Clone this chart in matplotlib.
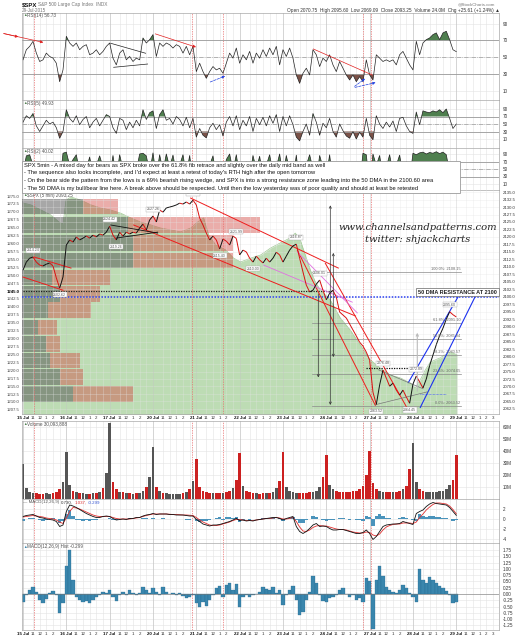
import numpy as np
import matplotlib
matplotlib.use('Agg')
import matplotlib.pyplot as plt
from matplotlib.patches import Rectangle
from matplotlib.collections import LineCollection

plt.rcParams['font.family'] = ['Liberation Sans', 'DejaVu Sans']

W, H = 529, 640
LEFT, RIGHT = 22, 499
PER_DAY = 13                      # 30 min samples per session
XMAX = (RIGHT - LEFT) / 3.34      # bars visible across the panel

day_names = ['15 Jul', '16 Jul', '17 Jul', '20 Jul', '21 Jul', '22 Jul',
             '23 Jul', '24 Jul', '27 Jul', '28 Jul', '29 Jul']
hour_names = ['11', '12', '1', '2', '3']
hour_slots = [3, 5, 7, 9, 11]
marker_bars = [3.3, 50.6, 59.9, 102.1, 104.5]

# ---- series, one row per session (13 samples) + last print ----
price = [2108.9, 2111.6, 2112.9, 2113.3, 2111.6, 2110.6, 2110.3, 2110.9, 2111.3, 2110.3, 2106.3, 2102.9, 2106.6,
         2117.3, 2119.0, 2118.3, 2120.0, 2119.0, 2119.6, 2120.3, 2119.6, 2120.6, 2120.0, 2121.0, 2120.6, 2121.6,
         2123.6, 2120.6, 2119.0, 2121.6, 2120.3, 2121.6, 2121.0, 2121.6, 2121.3, 2123.0, 2124.3, 2122.3, 2125.7,
         2127.0, 2125.0, 2129.0, 2128.3, 2129.7, 2130.0, 2130.3, 2130.7, 2131.3, 2131.0, 2131.7, 2131.0, 2132.3,
         2130.7, 2126.3, 2124.0, 2121.3, 2119.0, 2120.3, 2119.0, 2116.0, 2119.3, 2118.6, 2117.3, 2120.3, 2119.5,
         2114.0, 2115.6, 2115.0, 2112.9, 2111.6, 2113.6, 2112.3, 2111.3, 2112.9, 2111.6, 2112.9, 2114.9, 2114.0,
         2111.6, 2113.6, 2115.6, 2117.0, 2117.6, 2112.9, 2108.3, 2103.9, 2101.6, 2102.2, 2104.2, 2105.6, 2102.2,
         2099.0, 2101.2, 2102.2, 2099.9, 2094.9, 2093.9, 2092.9, 2090.9, 2088.9, 2086.9, 2084.8, 2083.5, 2081.5,
         2078.8, 2068.1, 2064.0, 2070.5, 2075.5, 2072.8, 2070.1, 2071.1, 2068.8, 2067.1, 2068.8, 2066.5, 2064.4,
         2070.8, 2073.5, 2071.5, 2069.5, 2072.5, 2077.0, 2080.5, 2084.0, 2087.0, 2089.5, 2092.5, 2095.0, 2094.0,
         2093.25]

rsi14 = [47, 59, 63, 69, 55, 45, 47, 55, 51, 49, 43, 21, 35,
         75, 67, 63, 67, 59, 63, 65, 53, 55, 59, 53, 57, 63,
         67, 49, 41, 55, 59, 47, 51, 45, 49, 47, 73, 67, 71,
         77, 51, 67, 63, 67, 65, 61, 65, 63, 55, 63, 53, 63,
         33, 43, 33, 25, 33, 39, 35, 37, 31, 43, 55, 49, 61,
         43, 53, 47, 57, 43, 55, 49, 59, 51, 61, 53, 63, 41,
         59, 51, 61, 49, 29, 19, 31, 37, 29, 59, 53, 39, 49,
         45, 53, 41, 33, 45, 37, 29, 23, 29, 21, 27, 21, 47,
         29, 23, 53, 49, 45, 47, 45, 47, 41, 53, 57, 49, 41,
         35, 69, 53, 67, 71, 73, 77, 79, 71, 79, 81, 71, 59,
         56.73]

rsi5 = [55, 72, 65, 78, 45, 30, 45, 60, 50, 55, 40, 12, 30,
        88, 65, 55, 72, 48, 62, 70, 40, 55, 65, 45, 60, 75,
        70, 40, 25, 65, 60, 35, 55, 40, 60, 45, 88, 62, 80,
        85, 38, 75, 88, 60, 65, 50, 70, 62, 45, 68, 40, 65,
        15, 38, 20, 13, 40, 52, 35, 48, 18, 55, 70, 45, 72,
        35, 60, 45, 70, 30, 65, 48, 68, 45, 72, 52, 75, 30,
        70, 45, 72, 48, 15, 5, 30, 50, 20, 78, 55, 20, 52,
        40, 65, 30, 15, 50, 32, 18, 12, 30, 10, 28, 15, 65,
        20, 8, 72, 50, 38, 55, 42, 58, 30, 65, 68, 45, 30,
        25, 82, 48, 85, 82, 80, 85, 82, 88, 80, 90, 65, 38,
        49.93]

rsi2 = [40, 85, 88, 60, 30, 55, 20, 65, 45, 70, 30, 10, 92,
        95, 60, 75, 88, 40, 65, 50, 82, 35, 60, 85, 55, 45,
        30, 86, 25, 88, 50, 70, 35, 60, 45, 90, 92, 85, 40,
        93, 30, 88, 45, 90, 55, 87, 40, 60, 88, 35, 86, 20,
        10, 70, 15, 40, 60, 85, 30, 55, 20, 75, 90, 45, 88,
        30, 55, 70, 25, 86, 50, 84, 30, 60, 88, 40, 55, 90,
        30, 86, 45, 20, 87, 10, 35, 60, 88, 50, 20, 86, 55,
        30, 88, 15, 40, 25, 60, 20, 45, 15, 35, 10, 92, 88,
        5, 90, 60, 86, 30, 55, 88, 40, 60, 87, 35, 70, 20,
        92, 88, 93, 95, 90, 94, 92, 96, 91, 95, 88, 40, 55,
        40.02]

volume = [29, 9, 6, 5, 5, 4, 4, 5, 4, 5, 6, 8, 14,
          39, 12, 7, 6, 5, 5, 4, 4, 5, 5, 6, 9, 22,
          63, 14, 8, 6, 6, 5, 5, 4, 5, 5, 7, 10, 18,
          43, 10, 7, 5, 5, 4, 4, 4, 4, 5, 6, 8, 15,
          33, 10, 7, 6, 5, 5, 5, 5, 5, 6, 7, 9, 16,
          38, 11, 7, 6, 5, 5, 4, 5, 5, 5, 6, 9, 15,
          39, 10, 7, 6, 5, 5, 5, 5, 6, 6, 7, 10, 18,
          37, 12, 8, 7, 6, 6, 6, 6, 7, 7, 8, 11, 20,
          40, 13, 8, 7, 6, 6, 6, 6, 6, 7, 8, 11, 25,
          47, 14, 8, 7, 6, 6, 6, 6, 7, 7, 8, 12, 16,
          37]

macd = [0.5, 0.7, 0.8, 0.9, 0.6, 0.3, 0.2, 0.0, -0.1, -0.2, -0.5, -1.5, -1.2,
        1.5, 2.8, 2.6, 2.3, 1.9, 1.5, 1.1, 0.8, 0.5, 0.3, 0.3, 0.5, 0.6,
        0.5, 0.1, -0.2, -0.1, 0.0, -0.1, 0.1, 0.1, 0.3, 0.3, 0.6, 0.8, 0.9,
        1.1, 0.9, 1.0, 1.0, 1.0, 0.9, 0.9, 0.8, 0.8, 0.8, 0.7, 0.6, 0.6,
        -0.1, -0.5, -1.0, -1.2, -1.4, -1.2, -1.2, -1.1, -0.9, -0.7, -0.5, -0.2, 0.1,
        -0.3, -0.2, -0.4, -0.3, -0.4, -0.2, -0.1, 0.0, 0.1, 0.2, 0.3, 0.3, 0.1,
        -0.2, 0.1, 0.3, 0.5, -1.5, -2.5, -2.9, -2.5, -1.9, -1.2, -0.9, -1.5, -1.4,
        -1.5, -1.9, -2.2, -2.2, -2.1, -2.1, -2.3, -2.5, -2.7, -2.9, -2.9, -2.7, -2.2,
        -2.9, -4.1, -3.5, -2.5, -1.5, -1.2, -1.1, -1.0, -1.0, -0.9, -0.5, -0.7, -0.9,
        -1.1, 1.1, 1.5, 1.8, 2.5, 3.0, 3.3, 3.1, 3.0, 2.9, 2.8, 2.3, 1.5,
        0.73]

signal = [0.4, 0.5, 0.6, 0.7, 0.6, 0.5, 0.4, 0.2, 0.1, 0.0, -0.2, -0.6, -0.9,
          0.2, 1.5, 2.3, 2.2, 2.0, 1.7, 1.4, 1.1, 0.8, 0.6, 0.5, 0.5, 0.5,
          0.5, 0.3, 0.1, 0.0, 0.0, 0.0, 0.0, 0.1, 0.2, 0.3, 0.5, 0.7, 0.85,
          1.0, 1.0, 1.0, 1.0, 1.0, 0.95, 0.9, 0.9, 0.85, 0.8, 0.8, 0.75, 0.7,
          0.3, -0.2, -0.6, -0.9, -1.2, -1.3, -1.3, -1.2, -1.0, -0.8, -0.6, -0.3, -0.1,
          -0.1, -0.2, -0.3, -0.3, -0.3, -0.2, -0.1, 0.0, 0.1, 0.1, 0.2, 0.3, 0.2,
          0.0, 0.0, 0.1, 0.3, -0.5, -1.6, -2.4, -2.5, -2.2, -1.7, -1.4, -1.3, -1.4,
          -1.4, -1.6, -1.8, -2.0, -2.1, -2.1, -2.2, -2.4, -2.6, -2.7, -2.8, -2.8, -2.6,
          -2.7, -3.2, -3.4, -3.0, -2.2, -1.6, -1.3, -1.1, -1.0, -1.0, -0.8, -0.8, -0.8,
          -0.9, -0.6, 0.3, 1.0, 1.8, 2.4, 2.9, 3.2, 3.2, 3.1, 3.0, 2.6, 1.9,
          1.04]

hist = [-0.3, -0.05, 0.15, 0.27, 0.1, -0.25, -0.35, -0.2, 0.03, 0.13, -0.05, -0.77, -0.37,
        1.1, 1.75, 0.55, -0.1, -0.25, -0.3, -0.27, -0.37, -0.25, -0.13, -0.05, 0.1, 0.03,
        0.15, -0.1, -0.27, -0.05, 0.1, -0.05, 0.15, 0.05, -0.05, 0.03, 0.27, 0.15, 0.03,
        0.23, 0.1, -0.05, 0.3, 0.1, 0.0, 0.03, -0.05, 0.03, -0.08, -0.17, -0.1, -0.05,
        -0.37, -0.5, -0.3, -0.48, -0.25, -0.05, 0.23, 0.32, -0.1, 0.35, 0.43, 0.15, 0.4,
        -0.5, -0.1, -0.05, -0.1, -0.05, 0.0, 0.1, 0.27, 0.19, 0.15, 0.27, 0.03, 0.15,
        -0.45, -0.05, 0.15, 0.32, -0.25, -0.85, -0.7, -0.25, 0.1, 0.7, 0.43, -0.05, -0.27,
        -0.3, -0.17, -0.1, -0.05, 0.15, 0.23, 0.0, -0.1, -0.05, -0.25, -0.17, -0.3, 0.62,
        0.5, -1.4, 0.55, 1.1, 0.7, 0.3, 0.15, 0.1, 0.03, 0.15, 0.35, 0.23, 0.03,
        -0.1, -0.3, 1.0, 0.55, 0.43, 0.67, 0.55, 0.43, 0.32, 0.23, 0.13, -0.05, -0.37,
        -0.299]

# shaded comparison series (left scale)
green_bars = [0, 2.4, 5.4, 8.4, 10.8, 12, 12.9, 14.4, 17.4, 20.4, 23.4, 26.3, 29.3, 32.3, 35.3,
              38.3, 41.3, 44.3, 47.3, 50.3, 52.4, 54.2, 55.7, 57.8, 60.8, 63.2, 65.3, 68.3, 71.3,
              74.3, 77.2, 80.2, 81.7, 83.2, 84.7, 86.2, 87.7, 89.2, 92.2, 95.2, 98.2, 101.2,
              104.2, 107.2, 110.2, 113.2, 116.2, 117.7, 119.2, 120.7, 122.2, 125.1, 128.1, 130.2]
green_vals = [1272.8, 1272.2, 1270.6, 1269.0, 1266.8, 1266.2, 1273.7, 1274.7, 1273.7, 1272.2,
              1271.2, 1270.6, 1269.6, 1268.1, 1266.8, 1265.9, 1264.9, 1264.3, 1263.7, 1264.9,
              1266.8, 1268.1, 1262.7, 1259.6, 1258.0, 1255.4, 1254.2, 1255.4, 1256.4, 1258.6,
              1260.2, 1261.8, 1263.3, 1261.1, 1256.4, 1251.7, 1247.9, 1245.4, 1242.2, 1236.5,
              1232.7, 1228.0, 1223.3, 1220.7, 1218.5, 1217.6, 1216.0, 1214.4, 1217.0, 1220.1,
              1222.6, 1223.9, 1225.8, 1224.9]

# volume by price (left scale levels)
vbp_levels = [1212.4, 1217.75, 1223.1, 1228.3, 1233.5, 1238.9, 1244.1, 1249.3, 1254.65,
              1260.15, 1265.85, 1271.7]
vbp_up = [51, 38, 28, 24, 16, 26, 38, 30, 111, 111, 106, 61]
vbp_down = [60, 23, 30, 14, 19, 43, 40, 58, 100, 100, 132, 35]

fib_levels = [2063.52, 2074.05, 2080.57, 2085.84, 2091.10, 2108.15]
fib_names = ['0.0%', '23.6%', '38.2%', '50.0%', '61.8%', '100.0%']

price_labels = [(3, 2113.3, '2114.24', 1), (11, 2102.9, '2102.62', -1), (26, 2123.6, '2124.42', 1),
                (28, 2119.0, '2119.26', -1), (39, 2127.0, '2127.26', 1), (51, 2132.3, '2132.82', 1),
                (59, 2116.0, '2115.40', -1), (64, 2119.5, '2121.99', 1), (69, 2111.6, '2110.00', -1),
                (82, 2117.6, '2116.87', 1), (89, 2105.6, '2106.01', 1), (106, 2064.0, '2063.52', -1),
                (108, 2075.5, '2076.48', 1), (116, 2064.4, '2064.45', -1), (118, 2073.5, '2072.89', 1),
                (128, 2095.0, '2095.60', 1)]

red_lines = [((3.3, 2113.3), (14.4, 2109.6)), ((0, 2106.6), (12, 2102.2)),
             ((33.2, 2124.0), (99.7, 2093.6)), ((50.3, 2133.0), (94.6, 2109.6)),
             ((82.3, 2115.6), (105.7, 2063.7)), ((90.7, 2111.2), (115.3, 2062.7))]
pink_lines = [((82.3, 2115.0), (100.3, 2094.6)), ((72.2, 2110.6), (98.8, 2098.2))]
blue_lines = [((115.6, 2071.3), (130.5, 2099.9)), ((119.2, 2063.0), (135.6, 2099.9))]
black_lines = [((26.3, 2124.0), (40.4, 2121.3)), ((27.8, 2119.6), (40.4, 2121.6))]
gray_lines = [((105.7, 2063.9), (121.3, 2068.2)), ((106.6, 2075.6), (120.1, 2069.2))]

text_lines = [
    "SPX 5min - A mixed day for bears as SPX broke over the 61.8% fib retrace and slightly over the daily mid band as well",
    "- The sequence also looks incomplete, and I'd expect at least a retest of today's RTH high after the open tomorrow",
    "- On the bear side the pattern from the lows is a 69% bearish rising wedge, and SPX is into a strong resistance zone leading into the 50 DMA in the 2100.60 area",
    "- The 50 DMA is my bull/bear line here. A break above should be respected. Until then the low yesterday was of poor quality and should at least be retested",
]

x = np.arange(len(price))
price = np.array(price)


def box(top, bottom):
    return [LEFT / W, 1 - bottom / H, (RIGHT - LEFT) / W, (bottom - top) / H]


def fy(py):
    return 1 - py / H


def grid(ax, yticks, alpha=1.0):
    for d in range(len(day_names)):
        b = d * PER_DAY
        ax.axvline(b, color='#c4c4c4', lw=0.5, zorder=0.5, alpha=alpha)
        for h in hour_slots:
            ax.axvline(b + h, color='#e4e4e4', lw=0.4, zorder=0.4, alpha=alpha)
    for t in yticks:
        ax.axhline(t, color='#e4e4e4', lw=0.4, zorder=0.4, alpha=alpha)
    for m in marker_bars:
        ax.axvline(m, color='#e87070', lw=0.5, ls=(0, (2, 1.5)), zorder=0.6)


def style(ax, ylim, yticks, ylabels, fs=3.3):
    ax.set_xlim(-0.3, XMAX)
    ax.set_ylim(*ylim)
    ax.yaxis.tick_right()
    ax.set_yticks(yticks)
    ax.set_yticklabels(ylabels)
    ax.tick_params(axis='y', length=0, pad=3, labelsize=fs, labelcolor='#333')
    ax.set_xticks([])
    for s in ax.spines.values():
        s.set_color('#a8a8a8')
        s.set_linewidth(0.5)
    grid(ax, yticks)


def xlabels(ax):
    pos, lab = [], []
    for d, name in enumerate(day_names):
        b = d * PER_DAY
        pos.append(b)
        lab.append(name)
        slots = hour_slots if d == len(day_names) - 1 else hour_slots[:4]
        for h, hn in zip(slots, hour_names):
            pos.append(b + h)
            lab.append(hn)
    ax.set_xticks(pos)
    ax.set_xticklabels(lab)
    ax.tick_params(axis='x', length=0, labelbottom=True, labelsize=3.2, pad=1.5, labelcolor='#333')
    for t in ax.get_xticklabels():
        if 'Jul' in t.get_text():
            t.set_fontweight('bold')
            t.set_color('#111')


def chain(ax, parts, px, py, fs=3.2):
    # write coloured pieces one after another on one line
    prev = fig.text(px / W, fy(py), parts[0][0], fontsize=fs, color=parts[0][1], va='center')
    for txt, col in parts[1:]:
        prev = ax.annotate(txt, xy=(1, 0.5), xycoords=prev, xytext=(1.2, 0),
                           textcoords='offset points', fontsize=fs, color=col,
                           va='center', annotation_clip=False)


def panel_title(py, text, px=27, icon='#4f7f4f'):
    fig.text(23 / W, fy(py), '\u25b2', fontsize=2.6, color=icon, va='center')
    fig.text(px / W, fy(py), text, fontsize=3.3, color='#555', va='center')


def rsi_panel(ax, vals, ylim, title_y, title):
    vals = np.array(vals, dtype=float)
    rt = [10, 30, 50, 70, 90]
    style(ax, ylim, rt, [str(v) for v in rt])
    ax.axhline(70, color='#9a9a9a', lw=0.6)
    ax.axhline(30, color='#9a9a9a', lw=0.6)
    ax.axhline(50, color='#9a9a9a', lw=0.5, ls='-.')
    ax.fill_between(x, vals, 70, where=vals >= 70, interpolate=True, color='#4f7f4f', lw=0)
    ax.fill_between(x, vals, 30, where=vals <= 30, interpolate=True, color='#7b5248', lw=0)
    ax.plot(x, vals, color='#222', lw=0.5)
    panel_title(title_y, title)


fig = plt.figure(figsize=(W / 100, H / 100), dpi=100)

# ---- header ----
fig.text(22 / W, fy(4.5), '$SPX', fontsize=4.3, weight='bold', color='#111', va='center')
fig.text(38 / W, fy(4.5), 'S&P 500 Large Cap Index  INDX', fontsize=3.4, color='#777', va='center')
fig.text(22 / W, fy(10.5), '29-Jul-2015', fontsize=3.3, color='#777', va='center')
fig.text(495 / W, fy(4), '@StockCharts.com', fontsize=3.2, color='#777', va='center', ha='right')
fig.text(500 / W, fy(10.5), 'Open 2070.75  High 2095.60  Low 2069.09  Close 2093.25  Volume 24.0M  Chg +25.61 (+1.24%) \u25b2',
         fontsize=3.4, color='#333', va='center', ha='right')

# ---- RSI panels ----
ax1 = fig.add_axes(box(13, 100))
rsi_panel(ax1, rsi14, (-0.8, 102.7), 15.5, 'RSI(14) 56.73')
ax2 = fig.add_axes(box(100, 148))
rsi_panel(ax2, rsi5, (-14, 114), 103.5, 'RSI(5) 49.93')
ax3 = fig.add_axes(box(148, 190))
rsi_panel(ax3, rsi2, (-6, 106), 151.5, 'RSI(2) 40.02')

arrow_red = dict(arrowstyle='-|>', color='#e02020', lw=0.5, mutation_scale=4)
ax1.annotate('', xy=(6.9, 67), xytext=(-6.6, 79), arrowprops=arrow_red, annotation_clip=False)
ax1.annotate('', xy=(-0.6, 73.6), xytext=(-6.6, 79), arrowprops=arrow_red, annotation_clip=False)
ax1.annotate('', xy=(52.7, 61.1), xytext=(38.9, 78.9), arrowprops=arrow_red)
ax1.plot([87.1, 104.8], [59.9, 28.9], color='#e02020', lw=0.5)
ax1.plot([26.3, 36.8], [66.7, 54.8], color='#222', lw=0.5)
ax1.plot([27.2, 37.4], [38.1, 42.0], color='#222', lw=0.5)
arrow_blue = dict(arrowstyle='-|>', color='#2040e0', lw=0.5, mutation_scale=4, ls='--')
ax1.annotate('', xy=(61.4, 28.9), xytext=(55.4, 19.4), arrowprops=arrow_blue)
ax1.annotate('', xy=(103.3, 26.5), xytext=(98.8, 13.5), arrowprops=arrow_blue)
ax1.annotate('', xy=(106.6, 20.6), xytext=(98.8, 13.5), arrowprops=arrow_blue)

# ---- price panel ----
ax_l = fig.add_axes(box(190, 414))
ax_l.set_xlim(-0.3, XMAX)
ax_l.set_ylim(1206.2, 1276.9)
lt = np.arange(1207.5, 1275.1, 2.5)
ax_l.set_yticks(lt)
ax_l.set_yticklabels(['%.1f' % v for v in lt])
ax_l.tick_params(axis='y', length=0, pad=2, labelsize=3.1, labelcolor='#444')
for t in ax_l.get_yticklabels():
    if t.get_text() == '1245.0':
        t.set_fontweight('bold')
        t.set_color('#000')
for s in ax_l.spines.values():
    s.set_color('#a8a8a8')
    s.set_linewidth(0.5)
ax_l.fill_between(green_bars, green_vals, 1200, color='#bddcb4', lw=0)
ax_l.plot(green_bars, green_vals, color='#a3c999', lw=0.5)
xlabels(ax_l)

ax_v = ax_l.twiny()
ax_v.set_xlim(0, RIGHT - LEFT)
ax_v.barh(vbp_levels, vbp_up, height=5.0, color='#505050', alpha=0.5, lw=0)
ax_v.barh(vbp_levels, vbp_down, left=vbp_up, height=5.0, color='#d24a44', alpha=0.45, lw=0)
ax_v.xaxis.set_visible(False)
for s in ax_v.spines.values():
    s.set_visible(False)
ax_v.set_zorder(ax_l.get_zorder() + 1)

ax_p = ax_l.twinx()
ax_p.set_zorder(ax_l.get_zorder() + 2)
ax_p.set_ylim(2060.8, 2135.7)
pt = np.arange(2062.5, 2135.1, 2.5)
ax_p.set_yticks(pt)
ax_p.set_yticklabels(['%.1f' % v for v in pt])
ax_p.tick_params(axis='y', length=0, pad=3, labelsize=3.1, labelcolor='#333')
for s in ax_p.spines.values():
    s.set_visible(False)
grid(ax_p, pt, alpha=0.55)

ax_p.axhline(2100, color='#2a3ff0', lw=1.1, ls=(0, (1, 1)))
ax_p.plot([0, 93.1], [1245.0, 1245.0], color='#222', lw=0.9, ls=(0, (1, 1)), transform=ax_l.transData)
ax_p.plot([103, 118.6], [2076.2, 2076.2], color='#111', lw=0.9, ls=(0, (1, 1)))
ax_p.plot([119, 127], [2067.5, 2067.5], color='#3050f0', lw=0.5, ls=(0, (1, 1)))

for lvl, name in zip(fib_levels, fib_names):
    ax_p.plot([86.8, 131.4], [lvl, lvl], color='#8a8a8a', lw=0.5)
    ax_p.text(131.2, lvl + 0.4, '%s: %.2f' % (name, lvl), fontsize=2.8, color='#666',
              ha='right', va='bottom')

for (a, b) in red_lines:
    ax_p.plot([a[0], b[0]], [a[1], b[1]], color='#ee1c1c', lw=0.7)
for (a, b) in pink_lines:
    ax_p.plot([a[0], b[0]], [a[1], b[1]], color='#e070e0', lw=0.6)
for (a, b) in blue_lines:
    ax_p.plot([a[0], b[0]], [a[1], b[1]], color='#1a30f0', lw=0.8)
for (a, b) in black_lines:
    ax_p.plot([a[0], b[0]], [a[1], b[1]], color='#111', lw=0.6)
for (a, b) in gray_lines:
    ax_p.plot([a[0], b[0]], [a[1], b[1]], color='#777', lw=0.5)

arr_k = dict(arrowstyle='<->', color='#333', lw=0.5, mutation_scale=4)
ax_p.annotate('', xy=(92.2, 2131.5), xytext=(92.2, 2062.9), arrowprops=arr_k)
ax_p.annotate('', xy=(93.1, 2115.6), xytext=(93.1, 2078.9), arrowprops=arr_k)
ax_p.annotate('', xy=(88.6, 2072.1), xytext=(88.6, 2101.9),
              arrowprops=dict(arrowstyle='->', color='#333', lw=0.5, mutation_scale=4))
ax_p.annotate('', xy=(118.3, 2088.9), xytext=(118.3, 2067.5),
              arrowprops=dict(arrowstyle='->', color='#bbb', lw=0.8, mutation_scale=4))

pts = np.column_stack([x, price])
segs = np.stack([pts[:-1], pts[1:]], axis=1)
seg_cols = ['#111111' if b >= a else '#d81010' for a, b in zip(price[:-1], price[1:])]
ax_p.add_collection(LineCollection(segs, colors=seg_cols, linewidths=0.7))

for b, p, txt, d in price_labels:
    ax_p.text(b, p + d * 1.6, txt, fontsize=2.6, color='#555', ha='center',
              va='bottom' if d > 0 else 'top',
              bbox=dict(boxstyle='square,pad=0.15', fc='white', ec='#aaa', lw=0.3))

panel_title(195.5, '$SPX (5 min) 2093.25')

fig.text(418 / W, fy(228), 'www.channelsandpatterns.com', fontsize=7.2, family='DejaVu Serif',
         style='italic', color='#222', ha='center', va='center', zorder=12)
fig.text(418 / W, fy(240), 'twitter: shjackcharts', fontsize=7.2, family='DejaVu Serif',
         style='italic', color='#222', ha='center', va='center', zorder=12)
fig.text(457.5 / W, fy(292), '50 DMA RESISTANCE AT 2100', fontsize=4.0, weight='bold', color='#222',
         ha='center', va='center', zorder=12,
         bbox=dict(boxstyle='square,pad=0.35', fc='white', ec='#666', lw=0.5))

# ---- comment box ----
fig.add_artist(Rectangle((22 / W, fy(193)), (460 - 22) / W, 32 / H, transform=fig.transFigure,
                         fc='white', ec='#9a9a9a', lw=0.6, zorder=10))
for i, line in enumerate(text_lines):
    fig.text(24 / W, fy(165 + 7.7 * i), line, fontsize=4.15, color='#111', va='center', zorder=11)

# ---- volume ----
axv = fig.add_axes(box(421, 499))
vt = [10, 20, 30, 40, 50, 60]
style(axv, (0, 65), vt, ['%dM' % v for v in vt])
vcols = ['#555555'] + ['#555555' if b >= a else '#cc2020' for a, b in zip(price[:-1], price[1:])]
axv.bar(x, volume, width=0.8, color=vcols, lw=0)
panel_title(424, 'Volume 30,093,888')

# ---- MACD ----
axm = fig.add_axes(box(499, 543))
mt = [-4, -2, 0, 2]
style(axm, (-4.8, 4.0), mt, [str(v) for v in mt])
axm.bar(x, hist, width=1.0, color='#4a93bb', lw=0)
axm.plot(x, signal, color='#e03030', lw=0.6)
axm.plot(x, macd, color='#111', lw=0.6)
chain(axm, [('\u2014 MACD(12,26,9)', '#555'), ('0.730,', '#333'), ('1.037,', '#e03030'),
            ('-0.299', '#3050d0')], 23, 502.5)

# ---- MACD histogram ----
axh = fig.add_axes(box(543, 630))
ht = [-1.25, -1.0, -0.75, -0.5, -0.25, 0.0, 0.25, 0.5, 0.75, 1.0, 1.25, 1.5, 1.75]
style(axh, (-1.43, 2.03), ht, ['%.2f' % v for v in ht])
axh.bar(x, hist, width=1.0, color='#3a86ad', edgecolor='#24688c', lw=0.2)
axh.axhline(0, color='#777', lw=0.4)
xlabels(axh)
panel_title(546.5, 'MACD(12,26,9) Hist -0.299', icon='#3a86ad')

fig.savefig('out.png', dpi=100, facecolor='white')
